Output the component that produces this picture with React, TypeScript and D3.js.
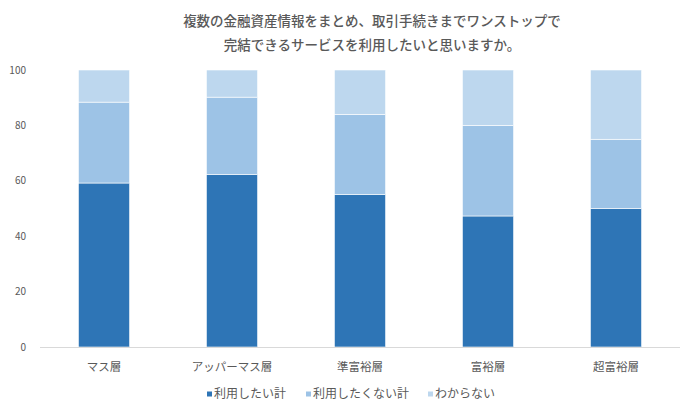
import * as React from 'react';
import * as d3 from 'd3';

const categories = ['マス層', 'アッパーマス層', '準富裕層', '富裕層', '超富裕層'];
const seriesNames = ['利用したい計', '利用したくない計', 'わからない'];
const wantValues = [59.2, 62.3, 55.1, 47.3, 50.0];
const notWantValues = [29.2, 27.9, 28.9, 32.7, 25.0];
const unknownValues = [11.6, 9.8, 16.0, 20.0, 25.0];
const yTicks = [0, 20, 40, 60, 80, 100];
const titleLines = [
    '複数の金融資産情報をまとめ、取引手続きまでワンストップで',
    '完結できるサービスを利用したいと思いますか。',
];

const colors = ['#2e75b6', '#9dc3e6', '#bdd7ee'];
const font = '"Noto Sans CJK JP", "Noto Sans", sans-serif';
const textColor = '#595959';

export default function App() {
    const w = 695;
    const h = 413;
    const left = 40;
    const right = 680;
    const top = 70;
    const bottom = 347;

    const x = d3.scaleBand<string>()
        .domain(categories)
        .range([left, right])
        .paddingInner(0.6)
        .paddingOuter(0.3);
    const y = d3.scaleLinear()
        .domain([0, 100])
        .range([bottom, top]);

    const rows = categories.map((c, i) => ({
        category: c,
        want: wantValues[i],
        notWant: notWantValues[i],
        unknown: unknownValues[i],
    }));
    const stack = d3.stack<any>().keys(['want', 'notWant', 'unknown']);
    const layers = stack(rows);

    const legendX = [207, 306, 428];

    return (
        <svg width={w} height={h} style={{ position: 'absolute', left: 0, top: 0, background: '#fff' }}
            fontFamily={font}>
            {titleLines.map((t, i) => (
                <text key={i} x={372} y={26 + i * 24} textAnchor="middle" fontSize={13.5}
                    fontWeight={500} fill={textColor}>{t}</text>
            ))}
            {yTicks.map(t => (
                <text key={t} x={26} y={y(t)} dy="0.35em" textAnchor="end" fontSize={10} fill={textColor}>{t}</text>
            ))}
            {layers.map((layer, li) => (
                <g key={li} fill={colors[li]}>
                    {layer.map((d, i) => (
                        <rect key={i}
                            x={x(categories[i])}
                            y={y(d[1])}
                            width={x.bandwidth()}
                            height={y(d[0]) - y(d[1])}
                            stroke="#fff" strokeWidth={0.6} />
                    ))}
                </g>
            ))}
            <line x1={left} x2={right} y1={bottom + 0.5} y2={bottom + 0.5} stroke="#d9d9d9" strokeWidth={1} />
            {categories.map(c => (
                <text key={c} x={x(c)! + x.bandwidth() / 2} y={367} dy="0.35em" textAnchor="middle"
                    fontSize={11.5} fill={textColor}>{c}</text>
            ))}
            {seriesNames.map((s, i) => (
                <g key={s} transform={`translate(${legendX[i]}, 394)`}>
                    <rect x={0} y={-2.5} width={5} height={5} fill={colors[i]} />
                    <text x={7} y={0} dy="0.35em" fontSize={12} fill={textColor}>{s}</text>
                </g>
            ))}
        </svg>
    );
}
